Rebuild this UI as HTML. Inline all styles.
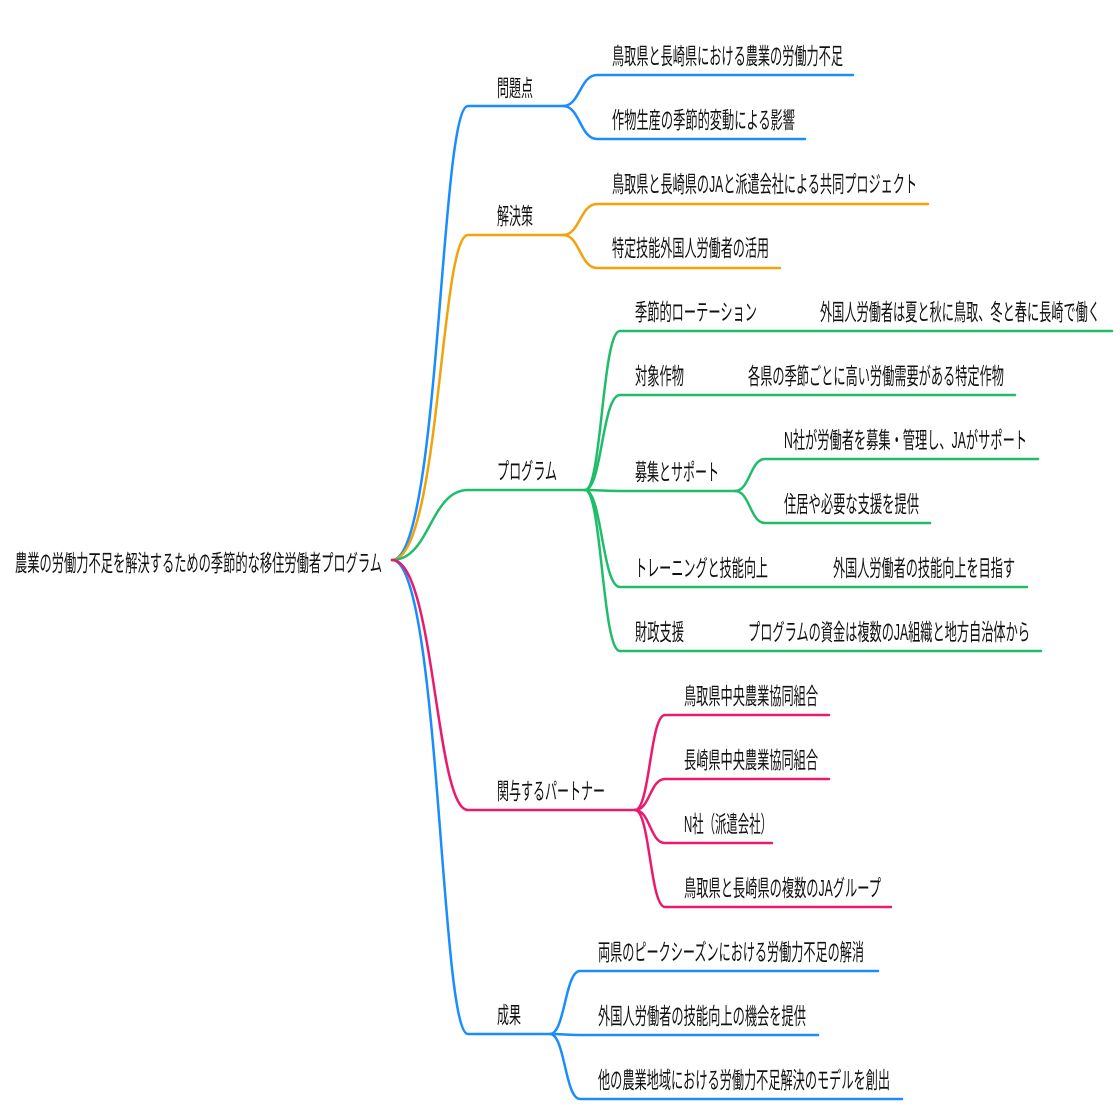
<!DOCTYPE html>
<html><head><meta charset="utf-8"><style>body{margin:0;background:#fff}svg{display:block}text{font-family:"Liberation Sans","Noto Sans CJK JP",sans-serif;font-size:23px;fill:#111}</style></head><body>
<svg width="1120" height="1120" viewBox="0 0 1120 1120" xmlns="http://www.w3.org/2000/svg">
<g fill="none" stroke-width="2.5" stroke-linecap="round">
<g stroke="#1a8cff">
<path d="M392 560 C440 560 440 106 468 106 L563 106"/>
<path d="M563 106 C580 106 580 75 597 75 L853 75"/>
<path d="M563 106 C580 106 580 139 597 139 L805 139"/>
<path d="M392 560 C440 560 440 1034 468 1034 L550 1034"/>
<path d="M550 1034 C565 1034 565 971 580 971 L878 971"/>
<path d="M550 1034 C565 1034 565 1035 580 1035 L818 1035"/>
<path d="M550 1034 C565 1034 565 1099 580 1099 L902 1099"/>
</g>
<g stroke="#f0a30a">
<path d="M392 560 C440 560 440 235 468 235 L563 235"/>
<path d="M563 235 C580 235 580 204 597 204 L928 204"/>
<path d="M563 235 C580 235 580 268 597 268 L780 268"/>
</g>
<g stroke="#1fbd6a">
<path d="M392 560 C430 560 430 490 468 490 L585 490"/>
<path d="M585 490 C602 490 602 331 620 331 L1112 331"/>
<path d="M585 490 C602 490 602 395 620 395 L1015 395"/>
<path d="M585 490 C602 490 602 491 620 491 L735 491"/>
<path d="M735 491 C750 491 750 459 765 459 L1038 459"/>
<path d="M735 491 C750 491 750 523 765 523 L930 523"/>
<path d="M585 490 C602 490 602 587 620 587 L1027 587"/>
<path d="M585 490 C602 490 602 651 620 651 L1041 651"/>
</g>
<g stroke="#ea1a6e">
<path d="M392 560 C435 560 435 810 468 810 L635 810"/>
<path d="M635 810 C650 810 650 715 665 715 L829 715"/>
<path d="M635 810 C650 810 650 779 665 779 L829 779"/>
<path d="M635 810 C650 810 650 843 665 843 L772 843"/>
<path d="M635 810 C650 810 650 907 665 907 L891 907"/>
</g>
</g>
<g>
<text x="15" y="571" textLength="367" lengthAdjust="spacingAndGlyphs">農業の労働力不足を解決するための季節的な移住労働者プログラム</text>
<text x="497" y="96" textLength="36" lengthAdjust="spacingAndGlyphs">問題点</text>
<text x="612" y="64" textLength="231" lengthAdjust="spacingAndGlyphs">鳥取県と長崎県における農業の労働力不足</text>
<text x="612" y="128" textLength="183" lengthAdjust="spacingAndGlyphs">作物生産の季節的変動による影響</text>
<text x="497" y="224" textLength="36" lengthAdjust="spacingAndGlyphs">解決策</text>
<text x="612" y="192" textLength="305" lengthAdjust="spacingAndGlyphs">鳥取県と長崎県のJAと派遣会社による共同プロジェクト</text>
<text x="612" y="256" textLength="157" lengthAdjust="spacingAndGlyphs">特定技能外国人労働者の活用</text>
<text x="497" y="479" textLength="60" lengthAdjust="spacingAndGlyphs">プログラム</text>
<text x="635" y="320" textLength="122" lengthAdjust="spacingAndGlyphs">季節的ローテーション</text>
<text x="820" y="320" textLength="280" lengthAdjust="spacingAndGlyphs">外国人労働者は夏と秋に鳥取、冬と春に長崎で働く</text>
<text x="635" y="384" textLength="49" lengthAdjust="spacingAndGlyphs">対象作物</text>
<text x="748" y="384" textLength="256" lengthAdjust="spacingAndGlyphs">各県の季節ごとに高い労働需要がある特定作物</text>
<text x="635" y="480" textLength="84" lengthAdjust="spacingAndGlyphs">募集とサポート</text>
<text x="784" y="448" textLength="243" lengthAdjust="spacingAndGlyphs">N社が労働者を募集・管理し、JAがサポート</text>
<text x="784" y="512" textLength="135" lengthAdjust="spacingAndGlyphs">住居や必要な支援を提供</text>
<text x="635" y="576" textLength="133" lengthAdjust="spacingAndGlyphs">トレーニングと技能向上</text>
<text x="833" y="576" textLength="182" lengthAdjust="spacingAndGlyphs">外国人労働者の技能向上を目指す</text>
<text x="635" y="640" textLength="49" lengthAdjust="spacingAndGlyphs">財政支援</text>
<text x="748" y="640" textLength="282" lengthAdjust="spacingAndGlyphs">プログラムの資金は複数のJA組織と地方自治体から</text>
<text x="497" y="799" textLength="108" lengthAdjust="spacingAndGlyphs">関与するパートナー</text>
<text x="684" y="704" textLength="134" lengthAdjust="spacingAndGlyphs">鳥取県中央農業協同組合</text>
<text x="684" y="768" textLength="134" lengthAdjust="spacingAndGlyphs">長崎県中央農業協同組合</text>
<text x="684" y="832" textLength="88" lengthAdjust="spacingAndGlyphs">N社（派遣会社）</text>
<text x="684" y="896" textLength="197" lengthAdjust="spacingAndGlyphs">鳥取県と長崎県の複数のJAグループ</text>
<text x="497" y="1023" textLength="24" lengthAdjust="spacingAndGlyphs">成果</text>
<text x="598" y="960" textLength="266" lengthAdjust="spacingAndGlyphs">両県のピークシーズンにおける労働力不足の解消</text>
<text x="598" y="1024" textLength="208" lengthAdjust="spacingAndGlyphs">外国人労働者の技能向上の機会を提供</text>
<text x="598" y="1088" textLength="292" lengthAdjust="spacingAndGlyphs">他の農業地域における労働力不足解決のモデルを創出</text>
</g>
</svg>
</body></html>
